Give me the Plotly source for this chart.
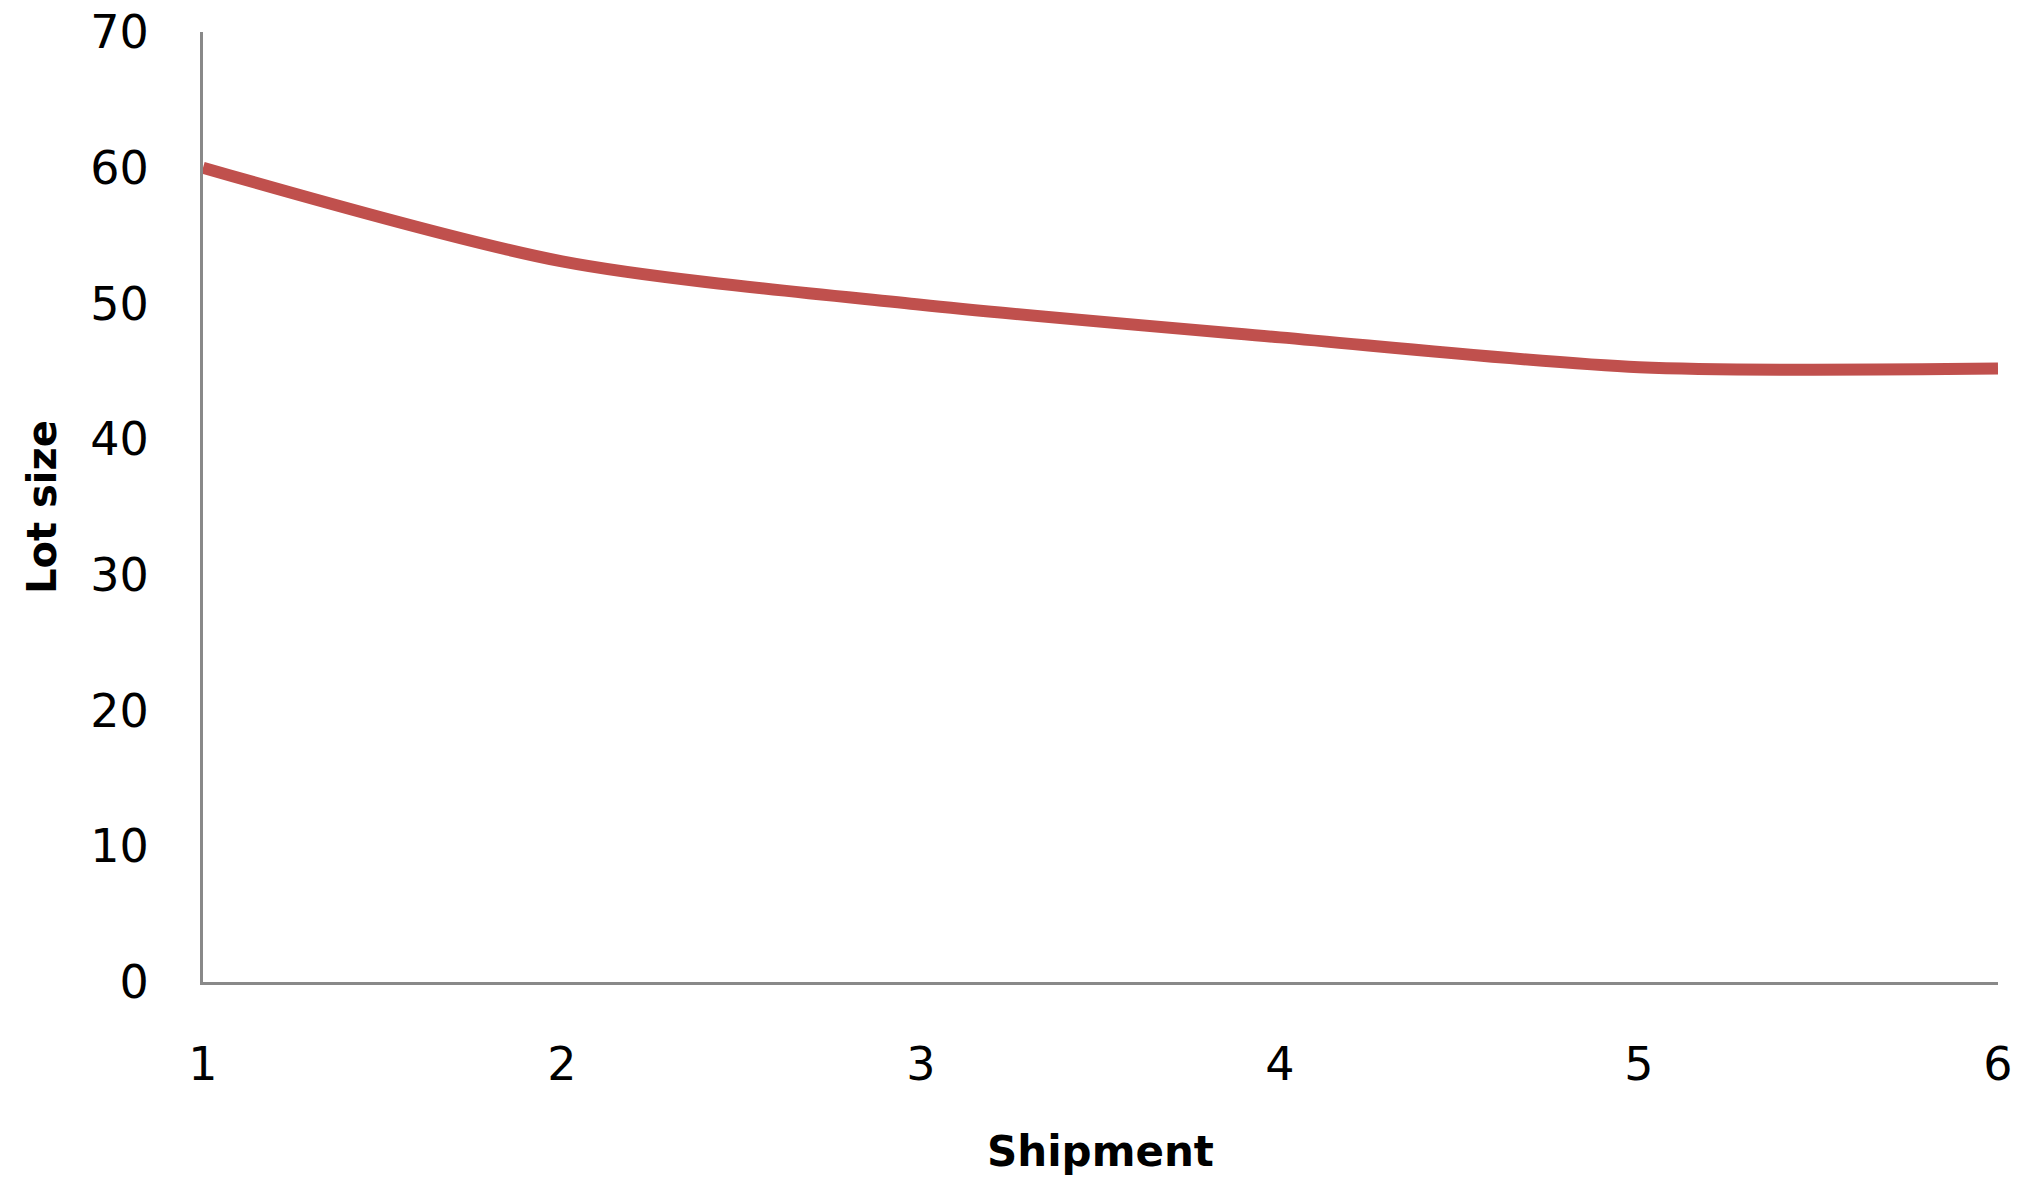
import plotly.graph_objects as go

shipment = [1, 2, 3, 4, 5, 6]
lot_size = [60, 53.1, 49.9, 47.5, 45.3, 45.2]
y_ticks = [0, 10, 20, 30, 40, 50, 60, 70]

fig = go.Figure()
fig.add_trace(go.Scatter(
    x=shipment, y=lot_size, mode="lines",
    line=dict(color="#C0504D", width=12, shape="spline", smoothing=0.8),
    showlegend=False,
))

fig.update_layout(
    width=2027, height=1198,
    margin=dict(l=203, r=29, t=32, b=216),
    paper_bgcolor="white", plot_bgcolor="white",
    font=dict(family="DejaVu Sans", color="#000000"),
    xaxis=dict(
        range=[1, 6], tickvals=shipment, ticktext=[str(s) for s in shipment],
        showgrid=False, zeroline=False, showline=True, linecolor="#898989", linewidth=3,
        ticks="outside", ticklen=40, tickcolor="rgba(0,0,0,0)",
        tickfont=dict(size=46), automargin=False,
        title=dict(text="<b>Shipment</b>", font=dict(size=42), standoff=47),
    ),
    yaxis=dict(
        range=[0, 70], tickvals=y_ticks,
        showgrid=False, zeroline=False, showline=True, linecolor="#898989", linewidth=3,
        ticks="outside", ticklen=42, tickcolor="rgba(0,0,0,0)",
        tickfont=dict(size=46), automargin=False,
        title=dict(text="<b>Lot size</b>", font=dict(size=40), standoff=22),
    ),
)

fig.write_html("out.html", config={"displayModeBar": False},
               post_script="document.body.style.margin='0';")
